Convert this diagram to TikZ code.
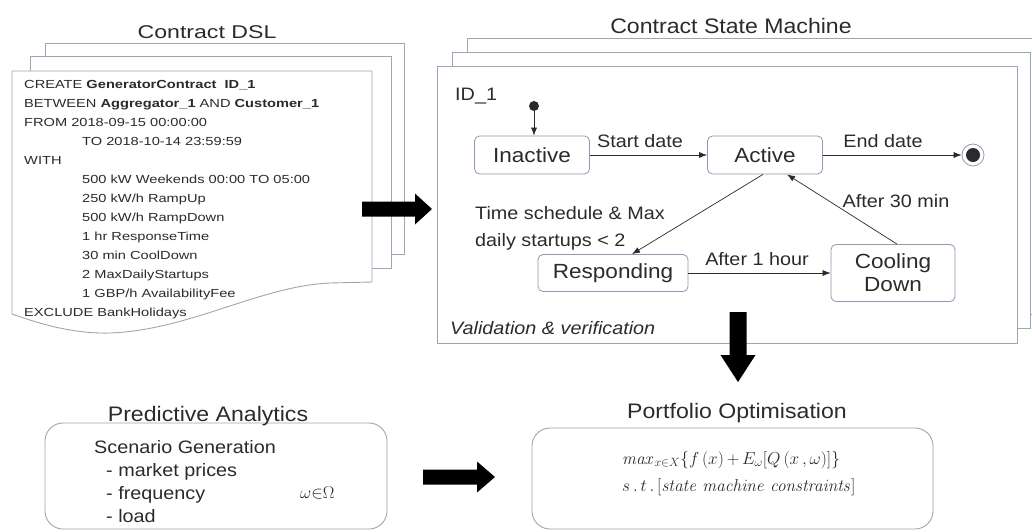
\documentclass[tikz,border=0pt]{standalone}
\usepackage[no-math]{fontspec}
\setmainfont{Liberation Sans}[FakeStretch=1.1]
\newfontfamily\dslfont{Liberation Sans}[FakeStretch=1.25]
\usetikzlibrary{arrows.meta}
\definecolor{ink}{HTML}{2B2B2B}
\definecolor{frame}{HTML}{9BA6B6}
\definecolor{sbox}{HTML}{8C9BB0}
\begin{document}
\begin{tikzpicture}[x=1pt,y=-1pt,
  page/.style={draw=frame, line width=0.9pt, fill=white},
  dsl/.style={anchor=base west, inner sep=0, text=ink, font=\dslfont\fontsize{11.7}{14}\selectfont},
  dsltitle/.style={anchor=base, inner sep=0, text=ink, font=\dslfont\fontsize{18.5}{22}\selectfont},
  title/.style={anchor=base, inner sep=0, text=ink, font=\fontsize{21}{24}\selectfont},
  state/.style={draw=sbox, line width=0.8pt, rounded corners=5pt, fill=white, inner sep=0, text=ink, font=\fontsize{20.5}{24}\selectfont, align=center},
  lbl/.style={anchor=base, inner sep=0, text=ink, font=\fontsize{18}{27}\selectfont},
  lblw/.style={lbl, anchor=base west},
  tr/.style={draw=ink, line width=0.7pt, -{Latex[length=8pt,width=6pt]}},
  panel/.style={draw=frame, line width=0.9pt, rounded corners=18pt, fill=white},
  body/.style={anchor=base west, inner sep=0, text=ink, font=\fontsize{18}{22}\selectfont},
  formula/.style={anchor=base west, inner sep=0, text=ink, font=\fontsize{16.5}{20}\selectfont},
]
\useasboundingbox (0,0) rectangle (1032,531);

% ---------------- Contract DSL ----------------
\node[dsltitle] (dsltitle) at (207,38) {Contract DSL};
\draw[page] (45,43) rectangle (404,254);
\draw[page] (30,56) rectangle (391,268);
\draw[page] (12,71) -- (372,71) -- (372,282) -- (330,283)
  .. controls (260,286) and (190,330) .. (110,333)
  .. controls (70,334) and (35,322) .. (12,314) -- cycle;

\node[dsl] (l1) at (24,88) {CREATE \textbf{GeneratorContract\ \ ID\_1}};
\node[dsl] (l2) at (24,107) {BETWEEN \textbf{Aggregator\_1} AND \textbf{Customer\_1}};
\node[dsl] (l3) at (24,126) {FROM 2018-09-15 00:00:00};
\node[dsl] (l4) at (82,145) {TO 2018-10-14 23:59:59};
\node[dsl] (l5) at (24,164) {WITH};
\node[dsl] (l6) at (82,183) {500 kW Weekends 00:00 TO 05:00};
\node[dsl] (l7) at (82,202) {250 kW/h RampUp};
\node[dsl] (l8) at (82,221) {500 kW/h RampDown};
\node[dsl] (l9) at (82,240) {1 hr ResponseTime};
\node[dsl] (l10) at (82,259) {30 min CoolDown};
\node[dsl] (l11) at (82,278) {2 MaxDailyStartups};
\node[dsl] (l12) at (82,297) {1 GBP/h AvailabilityFee};
\node[dsl] (l13) at (24,316) {EXCLUDE BankHolidays};

% arrow DSL -> state machine
\coordinate (a1) at (362,209);
\fill[black] (a1) ++(0,-7.5) -- ++(53,0) -- ++(0,-8) -- ++(17,15.5) -- ++(-17,15.5) -- ++(0,-8) -- ++(-53,0) -- cycle;

% ---------------- Contract State Machine ----------------
\node[title] (smtitle) at (731,33) {Contract State Machine};
\draw[page] (467,38) rectangle (1045,314);
\draw[page] (452,52) rectangle (1030,328);
\draw[page] (437,66) rectangle (1017,343);

\node[lblw] (id) at (455,100) {ID\_1};
\node[circle, fill=ink, minimum size=10pt, inner sep=0] (init) at (534,106) {};
\node[state, minimum width=115pt, minimum height=38pt] (inact) at (532,155) {Inactive};
\node[state, minimum width=115pt, minimum height=38pt] (act) at (765,155) {Active};
\node[state, minimum width=150pt, minimum height=37pt] (resp) at (613,273) {Responding};
\node[state, minimum width=124pt, minimum height=57pt, font=\fontsize{20.5}{23}\selectfont] (cool) at (893,273) {Cooling\\Down};
\node[circle, draw=sbox, line width=0.8pt, fill=white, minimum size=22pt, inner sep=0] (fin) at (973,155) {};
\fill[ink] (fin.center) circle (7);

\draw[tr] (init) -- (inact.north -| init);
\draw[tr] (inact) -- (act);
\draw[tr] (act) -- (fin);
\draw[tr] ([xshift=-2pt]act.south) -- ([xshift=19pt]resp.north);
\draw[tr] (resp) -- (cool);
\draw[tr] ([xshift=4pt]cool.north) -- ([xshift=22pt]act.south);

\node[lbl] (lstart) at (640,147) {Start date};
\node[lbl] (lend) at (883,147) {End date};
\node[lblw] (lsched) at (475,219) {Time schedule \& Max};
\node[lblw] (lsched2) at (475,246) {daily startups < 2};
\node[lbl] (l1h) at (757,265) {After 1 hour};
\node[lbl] (l30) at (896,207) {After 30 min};
\node[lblw, font=\itshape\fontsize{18}{22}\selectfont] (valid) at (450,334) {Validation \& verification};

% arrow state machine -> portfolio
\coordinate (a2) at (738,312);
\fill[black] (a2) ++(-8.5,0) -- ++(0,43) -- ++(-9,0) -- ++(17.5,27) -- ++(17.5,-27) -- ++(-9,0) -- ++(0,-43) -- cycle;

% ---------------- Predictive Analytics ----------------
\draw[panel] (45,423) rectangle (387,529);
\node[title] (patitle) at (208,421) {Predictive Analytics};
\node[body] (sg) at (94,453) {Scenario Generation};
\node[body] (sg1) at (106,476) {- market prices};
\node[body] (sg2) at (106,499) {- frequency};
\node[body] (sg3) at (106,522) {- load};
\node[formula] (omega) at (300,498) {$\omega{\in}\Omega$};

% arrow predictive -> portfolio
\coordinate (a3) at (423,477);
\fill[black] (a3) ++(0,-7.5) -- ++(54,0) -- ++(0,-8) -- ++(18,15.5) -- ++(-18,15.5) -- ++(0,-8) -- ++(-54,0) -- cycle;

% ---------------- Portfolio Optimisation ----------------
\draw[panel] (532,428) rectangle (933,529);
\node[title] (potitle) at (737,418) {Portfolio Optimisation};
\node[formula] (f1) at (622,464) {$\mathit{max}_{x\in X}\{f\,(x)\,{+}\,E_{\omega}[Q\,(x\,,\omega)]\}$};
\node[formula] (f2) at (622,491) {$s\,.\,t\,.\,[\mathit{state\ machine\ constraints}]$};
\end{tikzpicture}
\end{document}
